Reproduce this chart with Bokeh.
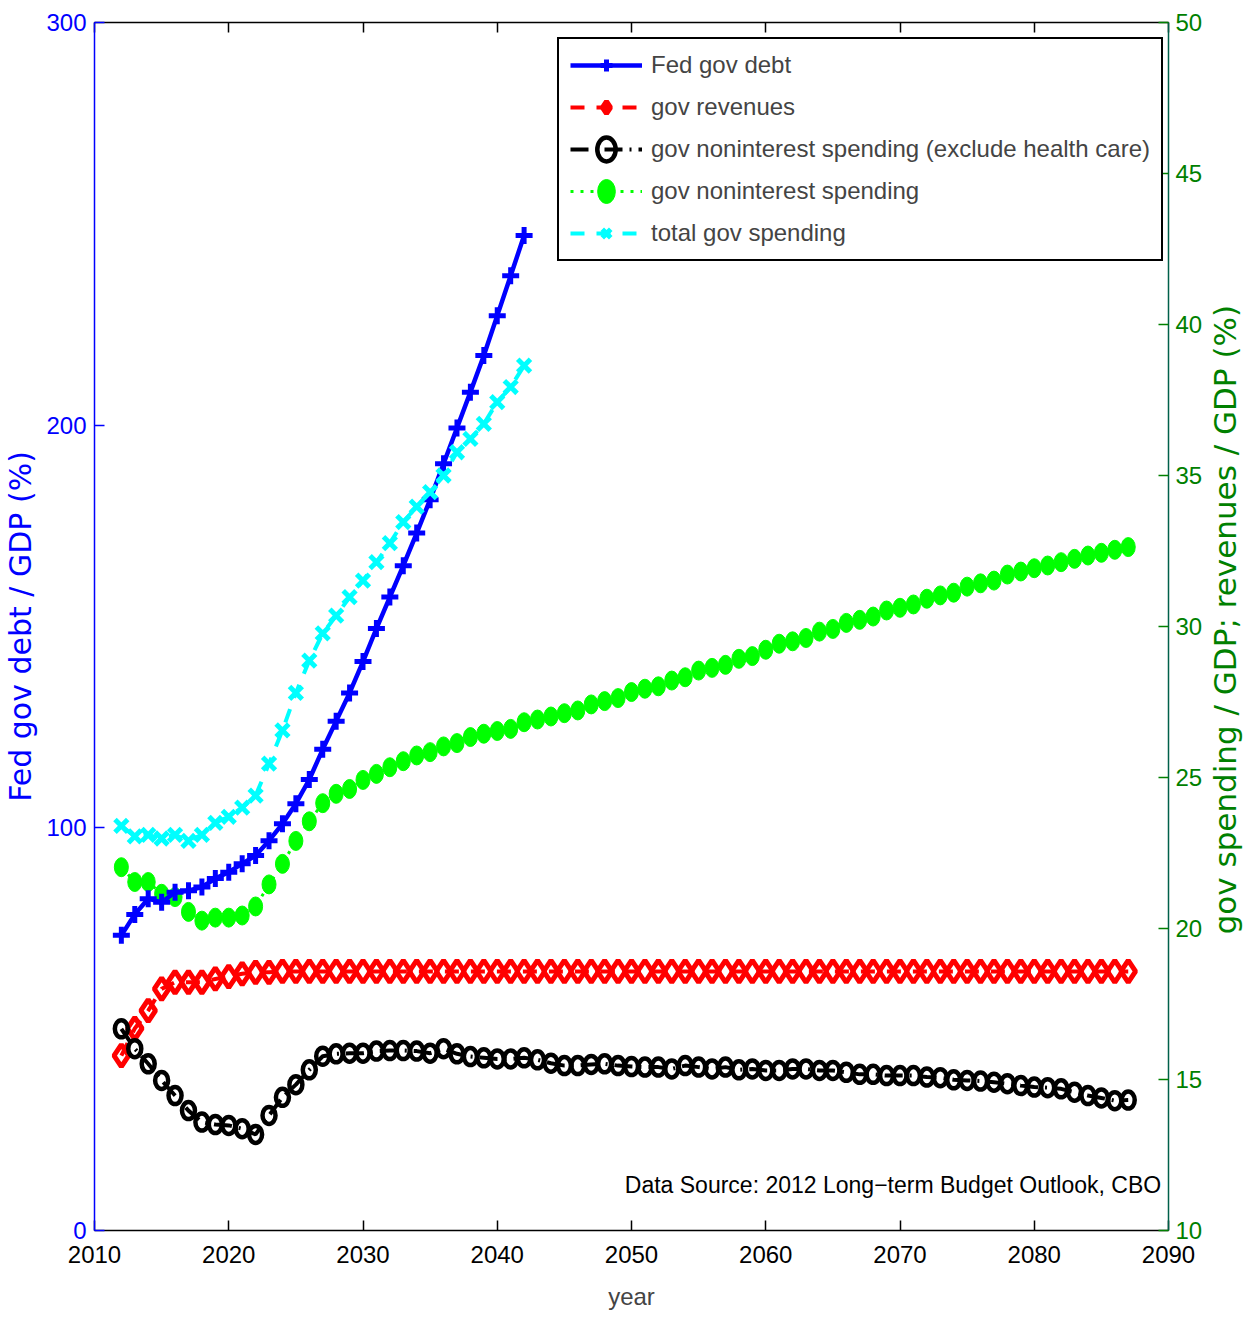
import math
from bokeh.plotting import figure
from bokeh.layouts import row
from bokeh.models import Range1d, LinearAxis, FixedTicker, Legend, LegendItem, Label
from bokeh.embed import file_html
from bokeh.resources import INLINE

# ---------------- data ----------------
years_debt = list(range(2012, 2043))
years_all = list(range(2012, 2088))

x_ticks = [2010, 2020, 2030, 2040, 2050, 2060, 2070, 2080, 2090]
left_ticks = [0, 100, 200, 300]
right_ticks = [10, 15, 20, 25, 30, 35, 40, 45, 50]

fed_debt = [73.3, 78.5, 82.4, 81.5, 84.0, 84.4, 85.3, 87.4, 89.0, 91.1, 93.1,
            96.8, 101.0, 106.0, 112.0, 119.5, 126.5, 133.5, 141.3, 149.5,
            157.3, 165.1, 173.2, 181.5, 190.4, 199.3, 208.2, 217.3, 227.2,
            237.1, 247.1]

total_spending = [23.4, 23.05, 23.1, 22.98, 23.1, 22.9, 23.1, 23.5, 23.7, 24.0,
                  24.4, 25.46, 26.56, 27.8, 28.87, 29.77, 30.36, 30.97, 31.52,
                  32.13, 32.76, 33.46, 33.97, 34.45, 35.0, 35.77, 36.21, 36.71,
                  37.43, 37.93, 38.64]

nonint_spending = [22.03, 21.54, 21.54, 21.15, 21.04, 20.55, 20.26, 20.36, 20.36,
                   20.43, 20.73, 21.46, 22.14, 22.9, 23.55,
                   24.15, 24.46, 24.62, 24.92, 25.12, 25.34, 25.54, 25.73, 25.84,
                   26.03, 26.14, 26.34, 26.45, 26.54,
                   26.61, 26.83, 26.92, 27.02, 27.13, 27.22, 27.42, 27.53, 27.63,
                   27.83, 27.94, 28.02, 28.21, 28.32, 28.54, 28.63, 28.73, 28.93,
                   29.02, 29.23, 29.43, 29.51, 29.62, 29.83, 29.92, 30.12, 30.22,
                   30.33, 30.53, 30.62, 30.73, 30.92, 31.03, 31.12, 31.32, 31.43,
                   31.52, 31.72, 31.82, 31.93, 32.02, 32.13, 32.24, 32.35, 32.44,
                   32.54, 32.63]

revenues = [15.79, 16.69, 17.28, 18.0, 18.22, 18.22, 18.22, 18.33, 18.41, 18.5,
            18.55, 18.55,
            18.58, 18.58, 18.58, 18.58, 18.58, 18.58, 18.58, 18.58, 18.58, 18.58,
            18.58, 18.58, 18.58, 18.58, 18.58, 18.58, 18.58, 18.58, 18.58, 18.58,
            18.58, 18.58, 18.58, 18.58, 18.58, 18.58, 18.58, 18.58, 18.58, 18.58,
            18.58, 18.58, 18.58, 18.58, 18.58, 18.58, 18.58, 18.58, 18.58, 18.58,
            18.58, 18.58, 18.58, 18.58, 18.58, 18.58, 18.58, 18.58, 18.58, 18.58,
            18.58, 18.58, 18.58, 18.58, 18.58, 18.58, 18.58, 18.58, 18.58, 18.58,
            18.58, 18.58, 18.58, 18.58]

nonint_ex_health = [16.68, 16.02, 15.52, 14.97, 14.47, 13.97, 13.59, 13.51, 13.48,
                    13.37, 13.18, 13.81, 14.41, 14.83, 15.32, 15.77,
                    15.85, 15.87, 15.87, 15.94, 15.96, 15.96, 15.94, 15.87,
                    16.02, 15.85, 15.76, 15.72, 15.68, 15.68, 15.72, 15.65, 15.54,
                    15.46, 15.46, 15.50, 15.52, 15.46, 15.43, 15.41,
                    15.41, 15.35, 15.46, 15.41, 15.35, 15.41, 15.32, 15.35, 15.30,
                    15.30, 15.35, 15.35, 15.30, 15.30, 15.24, 15.17, 15.17, 15.13,
                    15.13, 15.13, 15.08, 15.06, 14.99, 14.97, 14.95, 14.91, 14.86,
                    14.80, 14.75, 14.73, 14.69, 14.58, 14.47, 14.39, 14.30, 14.32]

labels = ["Fed gov debt", "gov revenues",
          "gov noninterest spending (exclude health care)",
          "gov noninterest spending", "total gov spending"]
left_title = "Fed gov debt / GDP (%)"
right_title = "gov spending / GDP; revenues / GDP (%)"
x_title = "year"
source_note = "Data Source: 2012 Long\u2212term Budget Outlook, CBO"

# ---------------- styles ----------------
HFONT = "Liberation Sans"
VFONT = "DejaVu Sans"
BLUE = "#0000ff"
DKGREEN = "#008000"
H = 1319

p = figure(width=1205, height=H, x_range=Range1d(2010, 2090), y_range=Range1d(0, 300),
           output_backend="svg", toolbar_location=None,
           min_border_left=93, min_border_right=36, min_border_top=22,
           min_border_bottom=H - 1230)
p.extra_y_ranges = {"right": Range1d(10, 50)}
p.xgrid.visible = False
p.ygrid.visible = False
p.outline_line_color = None
p.background_fill_color = "white"
p.border_fill_color = "white"

def style_axis(ax, color, ticks):
    ax.ticker = FixedTicker(ticks=ticks)
    ax.major_tick_in = 10
    ax.major_tick_out = 0
    ax.minor_tick_line_color = None
    ax.axis_line_color = color
    ax.axis_line_width = 1.5
    ax.major_tick_line_color = color
    ax.major_tick_line_width = 1.5
    ax.major_label_text_color = color
    ax.major_label_text_font = HFONT
    ax.major_label_text_font_size = "24px"

xb = p.xaxis[0]
style_axis(xb, "black", x_ticks)
xb.major_label_standoff = 15
xb.axis_label = x_title
xb.axis_label_text_font = HFONT
xb.axis_label_text_font_size = "24px"
xb.axis_label_text_font_style = "normal"
xb.axis_label_standoff = 17

yl = p.yaxis[0]
style_axis(yl, BLUE, left_ticks)
yl.major_label_standoff = 8
yl.axis_label = left_title
yl.axis_label_text_color = BLUE
yl.axis_label_text_font = VFONT
yl.axis_label_text_font_size = "30px"
yl.axis_label_text_font_style = "normal"
yl.axis_label_standoff = 5

yr = LinearAxis(y_range_name="right")
style_axis(yr, DKGREEN, right_ticks)
yr.axis_line_color = "#00604a"
yr.major_label_standoff = 7
p.add_layout(yr, "right")

xt = LinearAxis()
style_axis(xt, "black", x_ticks)
xt.major_label_text_color = None
xt.major_label_text_font_size = "1px"
xt.major_label_standoff = 0
p.add_layout(xt, "above")

# ---------------- series ----------------
r_red_l = p.line(years_all, revenues, y_range_name="right", line_color="red",
                 line_width=4, line_dash="14 12")
r_red_m = p.scatter(years_all, revenues, y_range_name="right", marker="diamond",
                    size=22, line_color="red", line_width=5, fill_alpha=0)

r_blk_l = p.line(years_all, nonint_ex_health, y_range_name="right", line_color="black",
                 line_width=4, line_dash="18 7 2 7")
r_blk_m = p.ellipse(years_all, nonint_ex_health, y_range_name="right", width=13, height=17,
                    width_units="screen", height_units="screen",
                    line_color="black", line_width=4.5, fill_alpha=0)

r_grn_l = p.line(years_all, nonint_spending, y_range_name="right", line_color="#00ff00",
                 line_width=3, line_dash="3 7")
r_grn_m = p.ellipse(years_all, nonint_spending, y_range_name="right", width=14, height=19,
                    width_units="screen", height_units="screen",
                    fill_color="#00ff00", line_color="#00ff00", line_width=1)

r_blu_l = p.line(years_debt, fed_debt, line_color=BLUE, line_width=4.5)
r_blu_m = p.scatter(years_debt, fed_debt, marker="cross", size=17, line_color=BLUE,
                    line_width=5)

r_cyn_l = p.line(years_debt, total_spending, y_range_name="right", line_color="#00ffff",
                 line_width=4, line_dash="14 12")
r_cyn_m = p.scatter(years_debt, total_spending, y_range_name="right", marker="x", size=18,
                    line_color="#00ffff", line_width=5)

legend = Legend(items=[
    LegendItem(label=labels[0], renderers=[r_blu_l, r_blu_m]),
    LegendItem(label=labels[1], renderers=[r_red_l, r_red_m]),
    LegendItem(label=labels[2], renderers=[r_blk_l, r_blk_m]),
    LegendItem(label=labels[3], renderers=[r_grn_l, r_grn_m]),
    LegendItem(label=labels[4], renderers=[r_cyn_l, r_cyn_m]),
], location=(463, 969))
legend.label_text_font = HFONT
legend.label_text_font_size = "24px"
legend.label_height = 30
legend.glyph_height = 30
legend.glyph_width = 72
legend.spacing = 12
legend.padding = 11
legend.margin = 0
legend.label_standoff = 9
legend.border_line_color = "black"
legend.border_line_width = 2
legend.border_line_alpha = 1.0
legend.background_fill_color = "white"
legend.background_fill_alpha = 1.0
p.add_layout(legend, "center")

src = Label(x=2049.5, y=11.2, text=source_note,
            text_font=HFONT, text_font_size="23px", text_color="black",
            text_baseline="middle", text_align="left")
p.add_layout(src)

# narrow strip to the right holding the right-hand axis title (reads bottom-to-top)
p2 = figure(width=40, height=H, x_range=Range1d(0, 1), y_range=Range1d(0, H),
            output_backend="svg", toolbar_location=None, min_border=0,
            min_border_left=0, min_border_right=0, min_border_top=0, min_border_bottom=0,
            x_axis_location=None, y_axis_location=None)
p2.xgrid.visible = False
p2.ygrid.visible = False
p2.outline_line_color = None
p2.border_fill_color = "white"
rlab = Label(x=0.475, y=H - 652, text=right_title, angle=math.pi / 2,
             text_font=VFONT, text_font_size="31px", text_color=DKGREEN,
             text_baseline="middle", text_align="center")
p2.add_layout(rlab)

layout = row(p, p2, spacing=0)
open("out.html", "w").write(file_html(layout, INLINE))
